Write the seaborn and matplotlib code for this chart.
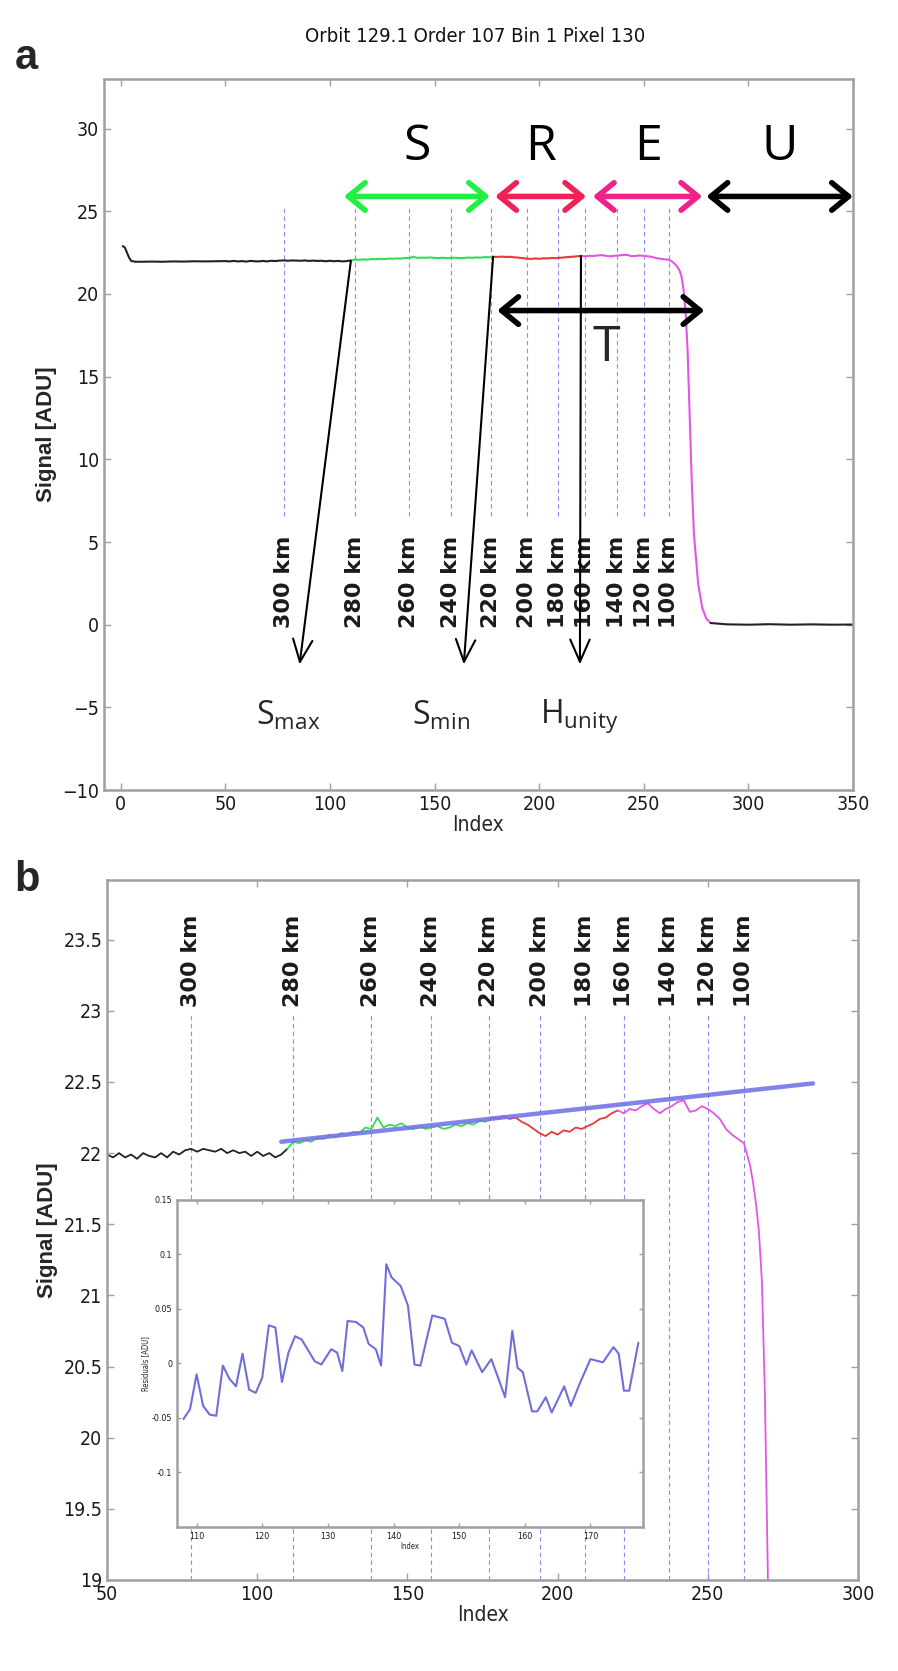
import pandas as pd
import matplotlib.pyplot as plt
import seaborn as sns

# Signal trace, split into the S / R / E regions (index, ADU)
pre_idx = [1, 2, 3, 4, 5, 7, 10, 15, 20, 25, 30, 35, 40, 45,
           50, 52, 54, 56, 58, 60, 62, 64, 66, 68, 70, 72, 74, 76, 78, 80,
           82, 84, 86, 88, 90, 92, 94, 96, 98, 100, 102, 104, 106, 108, 110]
pre_sig = [22.9, 22.8, 22.5, 22.2, 22.0, 21.95, 21.95, 21.96, 21.95, 21.97, 21.96, 21.98, 21.97, 21.98,
           21.99, 21.97, 22.00, 21.97, 21.99, 21.96, 22.00, 21.98, 21.97, 22.00, 21.97, 22.01,
           21.99, 22.02, 22.03, 22.01, 22.03, 22.02, 22.01, 22.03, 22.00, 22.02, 22.00, 22.01,
           21.98, 22.01, 21.98, 22.00, 21.97, 21.99, 22.03]
s_idx = [110, 112, 114, 116, 118, 120, 122, 124, 126, 128, 130, 132, 134, 136, 138, 140,
         142, 144, 146, 148, 150, 152, 154, 156, 158, 160, 162, 164, 166, 168, 170, 172,
         174, 176, 178]
s_sig = [22.03, 22.08, 22.07, 22.09, 22.08, 22.11, 22.10, 22.13, 22.11, 22.14, 22.13, 22.15,
         22.14, 22.18, 22.17, 22.25, 22.18, 22.20, 22.19, 22.21, 22.18, 22.17, 22.19, 22.17,
         22.18, 22.19, 22.17, 22.18, 22.20, 22.19, 22.21, 22.20, 22.23, 22.22, 22.25]
r_idx = [178, 180, 182, 184, 186, 188, 190, 192, 194, 196, 198, 200, 202, 204, 206, 208,
         210, 212, 214, 216, 218, 220]
r_sig = [22.25, 22.24, 22.26, 22.24, 22.25, 22.22, 22.20, 22.17, 22.14, 22.12, 22.15, 22.13,
         22.16, 22.15, 22.18, 22.17, 22.19, 22.21, 22.24, 22.25, 22.28, 22.30]
e_idx = [220, 222, 224, 226, 228, 230, 232, 234, 236, 238, 240, 242, 244, 246, 248, 250,
         252, 254, 256, 258, 260, 262, 264, 265, 266, 267, 268, 269, 270, 271, 272, 273,
         274, 276, 278, 280, 282]
e_sig = [22.30, 22.28, 22.31, 22.30, 22.33, 22.35, 22.31, 22.28, 22.31, 22.33, 22.36, 22.37,
         22.29, 22.30, 22.33, 22.31, 22.28, 22.24, 22.17, 22.13, 22.10, 22.07, 21.92, 21.80,
         21.65, 21.45, 21.10, 20.30, 19.00, 16.50, 12.50, 8.50, 5.50, 2.50, 1.00, 0.35, 0.10]
post_idx = [282, 290, 300, 310, 320, 330, 340, 350]
post_sig = [0.10, 0.02, 0.0, 0.03, 0.0, 0.02, 0.0, 0.01]

# linear fit over S region (panel b)
fit_idx = [108, 285]
fit_sig = [22.08, 22.49]

# tangent altitude markers
alt_km = [300, 280, 260, 240, 220, 200, 180, 160, 140, 120, 100]
alt_idx = [78, 112, 138, 158, 177, 194, 209, 222, 237, 250, 262]

# region arrows in panel a
region_names = ["S", "R", "E", "U"]
region_start = [106.7, 179, 225.7, 280]
region_end = [176.5, 222.5, 278, 350]
region_colors = ["#22ee44", "#ee2255", "#ee2288", "black"]
t_start, t_end = 180, 279

point_names = [r"S$_{\mathregular{max}}$", r"S$_{\mathregular{min}}$", r"H$_{\mathregular{unity}}$"]
point_from_x = [110, 178, 220]
point_from_y = [22.0, 22.25, 22.3]
point_to_x = [85.5, 164, 219.5]
point_label_x = [80, 153, 219]

# residuals of the fit (inset)
res_idx = [108, 109, 110, 111, 112, 113, 114, 115, 116, 117, 118, 119, 120, 121, 122, 123,
           124, 125, 126, 128, 129, 130.5, 131.4, 132.2, 133, 134.3, 135.4, 136.2, 137.3,
           138.1, 138.9, 139.7, 141.1, 142.2, 143.2, 144.1, 145.9, 147.8, 148.9, 150,
           151.1, 151.9, 153.5, 154.9, 157, 158.1, 158.9, 159.7, 161.1, 161.9, 163.2,
           164.1, 166, 167, 168.4, 170, 171.9, 173.5, 174.3, 175.1, 175.9, 177.3]
res_val = [-0.051, -0.042, -0.010, -0.039, -0.047, -0.048, -0.002, -0.014, -0.021, 0.009,
           -0.024, -0.027, -0.013, 0.035, 0.033, -0.017, 0.010, 0.025, 0.022, 0.002, -0.001,
           0.013, 0.010, -0.007, 0.039, 0.038, 0.033, 0.018, 0.013, -0.002, 0.091, 0.079,
           0.071, 0.053, -0.001, -0.002, 0.044, 0.041, 0.019, 0.016, -0.001, 0.012, -0.008,
           0.004, -0.031, 0.030, -0.004, -0.008, -0.044, -0.044, -0.031, -0.045, -0.021,
           -0.039, -0.018, 0.004, 0.001, 0.015, 0.009, -0.025, -0.025, 0.019]

sns.set_theme(style="white")
plt.rcParams["font.family"] = ["Liberation Sans Narrow", "DejaVu Sans"]
plt.rcParams["font.stretch"] = "condensed"

GREY = "#a0a0a0"
DASH = "#8c8cee"
seg_colors = {"pre": "#222222", "S": "#33dd55", "R": "#e83838", "E": "#e455e4", "post": "#222222"}
LETTER_FONT = ["Open Sans", "DejaVu Sans"]
BOLD_FONT = ["Liberation Sans", "DejaVu Sans"]

df = pd.concat([
    pd.DataFrame({"idx": pre_idx, "sig": pre_sig, "seg": "pre"}),
    pd.DataFrame({"idx": s_idx, "sig": s_sig, "seg": "S"}),
    pd.DataFrame({"idx": r_idx, "sig": r_sig, "seg": "R"}),
    pd.DataFrame({"idx": e_idx, "sig": e_sig, "seg": "E"}),
    pd.DataFrame({"idx": post_idx, "sig": post_sig, "seg": "post"}),
])

fig = plt.figure(figsize=(8.98, 16.71), dpi=100)
ax_a = fig.add_axes([0.1158, 0.5272, 0.834, 0.4255])
ax_b = fig.add_axes([0.1192, 0.0545, 0.8363, 0.4189])


def style_box(ax, size=14):
    for s in ax.spines.values():
        s.set_color(GREY)
        s.set_linewidth(1.8)
    ax.tick_params(direction="in", length=5, width=1, color=GREY, labelsize=size,
                   labelcolor="#1a1a1a", top=True, right=True, bottom=True, left=True)


def draw_signal(ax, lw):
    for seg, col in seg_colors.items():
        sub = df[df["seg"] == seg]
        sns.lineplot(data=sub, x="idx", y="sig", ax=ax, color=col, lw=lw,
                     estimator=None, sort=False, legend=False)


# ---------------- panel a ----------------
ax = ax_a
for x in alt_idx:
    ax.plot([x, x], [6.6, 25.2], color=DASH, lw=0.8, ls=(0, (4, 3)), zorder=1)
draw_signal(ax, 1.5)
for km, x in zip(alt_km, alt_idx):
    ax.text(x, -0.2, f"{km} km", rotation=90, ha="center", va="bottom", fontsize=16,
            fontweight="bold", fontstretch="normal", fontfamily=["DejaVu Sans"], color="#1a1a1a")

for name, x0, x1, col in zip(region_names, region_start, region_end, region_colors):
    ax.annotate("", xy=(x0, 25.9), xytext=(x1, 25.9),
                arrowprops=dict(arrowstyle="<->,head_length=0.55,head_width=0.45",
                                color=col, lw=4, mutation_scale=22, shrinkA=0, shrinkB=0))
    ax.text((x0 + x1) / 2, 28.85, name, ha="center", va="center", fontsize=36,
            fontstretch="normal", fontfamily=LETTER_FONT, color="black")
ax.annotate("", xy=(t_start, 19.0), xytext=(t_end, 19.0),
            arrowprops=dict(arrowstyle="<->,head_length=0.55,head_width=0.45",
                            color="black", lw=4, mutation_scale=22, shrinkA=0, shrinkB=0))
ax.text(232, 16.7, "T", ha="center", va="center", fontsize=36,
        fontstretch="normal", fontfamily=LETTER_FONT)

for name, fx, fy, tx, lx in zip(point_names, point_from_x, point_from_y, point_to_x, point_label_x):
    ax.annotate("", xy=(tx, -2.4), xytext=(fx, fy),
                arrowprops=dict(arrowstyle="->,head_length=0.8,head_width=0.35",
                                color="black", lw=1.5, mutation_scale=20, shrinkA=0, shrinkB=0))
    ax.text(lx, -5.5, name, ha="center", va="center", fontsize=23,
            fontstretch="normal", fontfamily=LETTER_FONT)

ax.set_xlim(-8, 350)
ax.set_ylim(-10, 33)
ax.set_xticks([0, 50, 100, 150, 200, 250, 300, 350])
ax.set_yticks([-10, -5, 0, 5, 10, 15, 20, 25, 30])
ax.set_xlabel("Index", fontsize=15, labelpad=1)
ax.set_ylabel("Signal [ADU]", fontsize=16, fontweight="bold", labelpad=4,
              fontstretch="normal", fontfamily=BOLD_FONT)
style_box(ax)

# ---------------- panel b ----------------
ax = ax_b
for x in alt_idx:
    ax.plot([x, x], [19.0, 22.98], color=DASH, lw=0.8, ls=(0, (4, 3)), zorder=1)
draw_signal(ax, 1.3)
sns.lineplot(x=fit_idx, y=fit_sig, ax=ax, color="#7474e6", lw=3.2, alpha=0.9, zorder=3)
for km, x in zip(alt_km, alt_idx):
    ax.text(x, 23.03, f"{km} km", rotation=90, ha="center", va="bottom", fontsize=16,
            fontweight="bold", fontstretch="normal", fontfamily=["DejaVu Sans"], color="#1a1a1a")
ax.set_xlim(50, 300)
ax.set_ylim(19, 23.92)
ax.set_xticks([50, 100, 150, 200, 250, 300])
ax.set_yticks([19, 19.5, 20, 20.5, 21, 21.5, 22, 22.5, 23, 23.5])
ax.set_yticklabels(["19", "19.5", "20", "20.5", "21", "21.5", "22", "22.5", "23", "23.5"])
ax.set_xlabel("Index", fontsize=15, labelpad=1)
ax.set_ylabel("Signal [ADU]", fontsize=16, fontweight="bold", labelpad=4,
              fontstretch="normal", fontfamily=BOLD_FONT)
style_box(ax)

# inset with residuals
ax_in = fig.add_axes([0.197, 0.0862, 0.519, 0.1957])
ax_in.set_facecolor("white")
sns.lineplot(x=res_idx, y=res_val, ax=ax_in, color="#6f6fdc", lw=1.5)
ax_in.set_xlim(107, 178)
ax_in.set_ylim(-0.15, 0.15)
ax_in.set_xticks([110, 120, 130, 140, 150, 160, 170])
ax_in.set_yticks([-0.1, -0.05, 0, 0.05, 0.1, 0.15])
ax_in.set_yticklabels(["-0.1", "-0.05", "0", "0.05", "0.1", "0.15"])
ax_in.set_xlabel("Index", fontsize=5.5, labelpad=1)
ax_in.set_ylabel("Residuals [ADU]", fontsize=5.5, labelpad=1)
style_box(ax_in, size=6.5)
ax_in.tick_params(length=3)

# title and panel letters
fig.text(0.529, 1 - 36 / 1671, "Orbit 129.1 Order 107 Bin 1 Pixel 130", ha="center",
         va="center", fontsize=14.5, color="#111111")
fig.text(0.016, 1 - 58 / 1671, "a", ha="left", va="center", fontsize=30, fontweight="bold",
         fontstretch="normal", fontfamily=BOLD_FONT)
fig.text(0.016, 1 - 880 / 1671, "b", ha="left", va="center", fontsize=30, fontweight="bold",
         fontstretch="normal", fontfamily=BOLD_FONT)

fig.savefig("out.png", dpi=100, facecolor="white")
